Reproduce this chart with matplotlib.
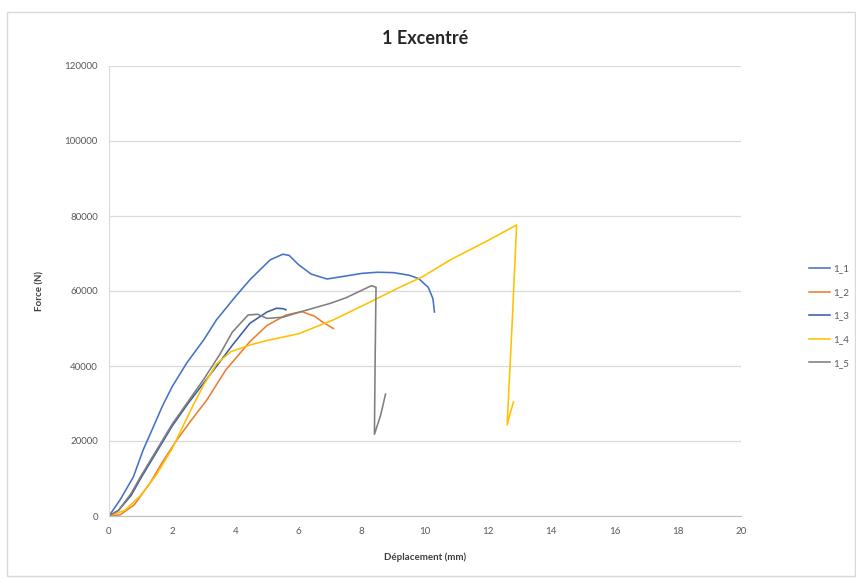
import matplotlib.pyplot as plt
from matplotlib.patches import Rectangle

plt.rcParams['font.family'] = ['Lato', 'DejaVu Sans']

# displacement (mm) / force (N) per test
x_1_1 = [0, 0.35, 0.77, 1.08, 1.4, 1.7, 2.0, 2.46, 3.0, 3.4, 4.0, 4.46, 5.1, 5.5, 5.7, 6.0, 6.4,
         6.9, 7.5, 8.0, 8.5, 9.0, 9.5, 9.8, 10.1, 10.25, 10.3]
f_1_1 = [0, 4300, 10400, 17600, 23700, 29500, 34500, 40800, 47000, 52300, 58500, 63000, 68300,
         69800, 69500, 67000, 64500, 63200, 64000, 64700, 65000, 64900, 64200, 63300, 61000, 58000, 54400]

x_1_2 = [0, 0.35, 0.8, 1.3, 1.7, 2.15, 2.6, 3.1, 3.7, 4.46, 5.0, 5.6, 6.1, 6.5, 6.8, 7.1]
f_1_2 = [0, 300, 3000, 8800, 14500, 20300, 25500, 31000, 39000, 46500, 50800, 53600, 54500,
         53300, 51500, 50000]

x_1_3 = [0, 0.3, 0.7, 1.0, 1.5, 2.0, 2.5, 3.0, 3.5, 3.9, 4.46, 5.0, 5.3, 5.5, 5.6]
f_1_3 = [0, 1500, 5500, 10000, 17000, 24000, 30000, 35500, 41000, 45500, 51400, 54400, 55400, 55300, 55000]

x_1_4 = [0, 0.5, 1.0, 1.5, 2.0, 2.66, 3.0, 3.4, 3.85, 4.46, 5.0, 6.0, 7.1, 8.2, 9.2, 9.9, 10.8,
         12.0, 12.9, 12.75, 12.6, 12.7, 12.8]
f_1_4 = [0, 1500, 5500, 11000, 18000, 29500, 35000, 40500, 43800, 45600, 46800, 48600, 52300,
         56800, 61000, 63700, 68300, 73500, 77600, 50000, 24300, 27500, 30400]

x_1_5 = [0, 0.3, 0.7, 1.0, 1.5, 2.0, 2.5, 3.0, 3.5, 3.9, 4.4, 4.7, 5.0, 5.5, 6.0, 6.5, 7.0, 7.5,
         7.9, 8.3, 8.45, 8.42, 8.4, 8.6, 8.75]
f_1_5 = [0, 1500, 6000, 10500, 17500, 24500, 30500, 36500, 43000, 49000, 53600, 53800, 52700,
         53000, 54300, 55500, 56700, 58200, 59800, 61400, 61000, 40000, 21800, 27000, 32500]

series = [('1_1', x_1_1, f_1_1, '#4472C4'),
          ('1_2', x_1_2, f_1_2, '#ED7D31'),
          ('1_3', x_1_3, f_1_3, '#3A5FA0'),
          ('1_4', x_1_4, f_1_4, '#FFC000'),
          ('1_5', x_1_5, f_1_5, '#7F7F7F')]

fig = plt.figure(figsize=(8.56, 5.79), dpi=100)
fig.patches.append(Rectangle((7 / 856, 3 / 579), 1 - 8 / 856, 1 - 15 / 579, transform=fig.transFigure,
                             fill=False, edgecolor='#D9D9D9', linewidth=1))
ax = fig.add_axes([109 / 856, 1 - 516 / 579, (741 - 109) / 856, (516 - 66) / 579])

for name, xs, fs, col in series:
    ax.plot(xs, fs, color=col, linewidth=1.15, label=name, solid_joinstyle='round')

ax.set_xlim(0, 20)
ax.set_ylim(0, 120000)
ax.set_xticks(range(0, 21, 2))
ax.set_yticks(range(0, 120001, 20000))
ax.grid(axis='y', color='#D9D9D9', linewidth=0.9)
ax.set_axisbelow(True)
for s in ['top', 'right']:
    ax.spines[s].set_visible(False)
ax.spines['left'].set_color('#D9D9D9')
ax.spines['bottom'].set_color('#BFBFBF')
ax.tick_params(length=0, labelsize=7, labelcolor='#595959', pad=8)

ax.set_title('1 Excentré', fontsize=13, fontweight='bold', color='#262626', pad=16)
ax.set_xlabel('Déplacement (mm)', fontsize=7, fontweight='bold', color='#404040', labelpad=12)
ax.set_ylabel('Force (N)', fontsize=7, fontweight='bold', color='#404040', labelpad=14)

fig.legend(loc='center left', bbox_to_anchor=(800 / 856, 1 - 316 / 579), frameon=False,
           fontsize=7, labelcolor='#595959', handlelength=2.2, labelspacing=1.5, handletextpad=0.3)

fig.savefig('out.png', dpi=100)
